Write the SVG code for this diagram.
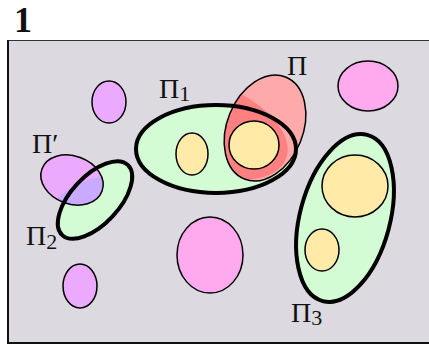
<svg xmlns="http://www.w3.org/2000/svg" width="429" height="345" viewBox="0 0 429 345">
<style>
text{font-family:'Liberation Serif','Times New Roman','DejaVu Serif',serif;fill:#111;}
.thin{stroke:#000;stroke-width:1.5;}
.thick{stroke:#000;stroke-width:4;fill:none;}
.vio{fill:#ecaaff;}
.pink{fill:#ffaaee;}
.yel{fill:#ffeaa8;}
.grn{fill:#d4fcd4;}
</style>
<defs>
<clipPath id="c1"><ellipse cx="216" cy="149" rx="80" ry="44"/></clipPath>
<clipPath id="c2"><ellipse cx="95" cy="200" rx="48" ry="24" transform="rotate(-47 95 200)"/></clipPath>
</defs>
<text x="14" y="32" font-size="36" font-weight="bold" font-family="Liberation Serif, serif">1</text>
<rect x="8.5" y="40.5" width="430" height="302" fill="#dcd9e0" stroke="#333" stroke-width="1"/>
<line x1="8" y1="40" x2="8" y2="344" stroke="#111" stroke-width="2"/>
<line x1="7" y1="343" x2="429" y2="343" stroke="#111" stroke-width="2"/>

<g id="blob1"><ellipse class="vio thin" cx="109" cy="102" rx="17" ry="21"/></g>
<g id="blob2"><ellipse class="pink thin" cx="368" cy="86" rx="30" ry="25"/></g>
<g id="blob3"><ellipse class="pink thin" cx="210" cy="255" rx="33" ry="38"/></g>
<g id="blob4"><ellipse class="vio thin" cx="80" cy="286" rx="17" ry="22"/></g>

<g id="P1">
<ellipse class="grn" cx="216" cy="149" rx="80" ry="44"/>
</g>
<g id="P">
<ellipse fill="#ffaaaa" cx="265" cy="128" rx="38" ry="55" transform="rotate(22 265 128)"/>
<ellipse fill="#ff8080" clip-path="url(#c1)" cx="265" cy="128" rx="38" ry="55" transform="rotate(22 265 128)"/>
<ellipse class="thin" fill="none" cx="265" cy="128" rx="38" ry="55" transform="rotate(22 265 128)"/>
<ellipse class="yel thin" cx="254" cy="145" rx="25" ry="24"/>
</g>
<g id="P1b">
<ellipse class="yel thin" cx="192" cy="154" rx="16" ry="21"/>
<ellipse class="thick" cx="216" cy="149" rx="80" ry="44"/>
</g>

<g id="P2">
<ellipse class="grn" cx="95" cy="200" rx="48" ry="24" transform="rotate(-47 95 200)"/>
</g>
<g id="Pprime">
<ellipse class="vio" cx="72" cy="180" rx="32" ry="24" transform="rotate(20 72 180)"/>
<ellipse fill="#c9aaff" clip-path="url(#c2)" cx="72" cy="180" rx="32" ry="24" transform="rotate(20 72 180)"/>
<ellipse class="thin" fill="none" cx="72" cy="180" rx="32" ry="24" transform="rotate(20 72 180)"/>
</g>
<g id="P2b">
<ellipse class="thick" cx="95" cy="200" rx="48" ry="24" transform="rotate(-47 95 200)"/>
</g>

<g id="P3">
<ellipse class="grn" cx="345" cy="218" rx="45" ry="86" transform="rotate(15 345 218)"/>
<ellipse class="yel thin" cx="355" cy="186" rx="33" ry="31"/>
<ellipse class="yel thin" cx="322" cy="250" rx="17" ry="21"/>
<ellipse class="thick" cx="345" cy="218" rx="45" ry="86" transform="rotate(15 345 218)"/>
</g>

<g id="labels">
<text x="287" y="75" font-size="28">Π</text>
<text x="159" y="98" font-size="28">Π<tspan font-size="22" dy="3">1</tspan></text>
<text x="32" y="153" font-size="28">Π′</text>
<text x="26" y="245" font-size="28">Π<tspan font-size="22" dy="4">2</tspan></text>
<text x="291" y="322" font-size="28">Π<tspan font-size="22" dy="3">3</tspan></text>
</g>
</svg>
